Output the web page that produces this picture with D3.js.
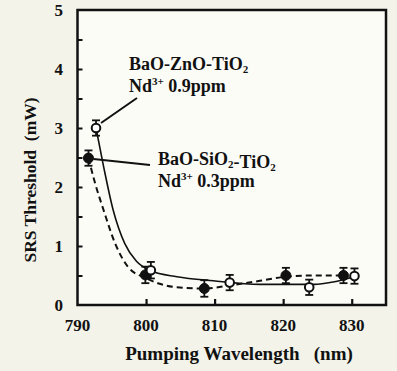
<!DOCTYPE html>
<html>
<head>
<meta charset="utf-8">
<script src="https://cdn.jsdelivr.net/npm/d3@7"></script>
<style>
  body { margin: 0; background: #f3f3e9; }
</style>
</head>
<body>
<svg id="chart" width="397" height="371"></svg>
<script>
(function(){

  // measured points (nm, mW)
  var znoX = [792.7, 800.7, 812.2, 823.8, 830.4],
      znoY = [3.0, 0.59, 0.38, 0.30, 0.49],
      znoErr = [0.13, 0.14, 0.13, 0.13, 0.13];

  var sioX = [791.6, 799.9, 808.5, 820.4, 828.8],
      sioY = [2.49, 0.51, 0.28, 0.50, 0.50],
      sioErr = [0.13, 0.14, 0.14, 0.13, 0.13];

  // fitted curves
  var znoFitX = [792.7, 793.8, 795.2, 796.9, 798.6, 800.7, 804.5, 809.8, 816.6, 821.5, 824.5, 827.3, 830.4],
      znoFitY = [3.0, 2.35, 1.61, 1.04, 0.74, 0.58, 0.48, 0.41, 0.35, 0.35, 0.35, 0.39, 0.48];

  var sioFitX = [791.6, 792.6, 793.8, 795.5, 797.4, 799.9, 802.0, 804.5, 808.5, 812.7, 816.6, 820.4, 824.4, 828.8],
      sioFitY = [2.49, 2.05, 1.61, 1.04, 0.64, 0.46, 0.36, 0.30, 0.28, 0.34, 0.41, 0.48, 0.50, 0.50];

  var xTicks = [790, 800, 810, 820, 830],
      yTicks = [0, 1, 2, 3, 4, 5],
      yMinor = [0.5, 1.5, 2.5, 3.5, 4.5];

  var FONT = '"Liberation Serif", "Times New Roman", serif';

  var svg = d3.select('#chart');

  var x = d3.scaleLinear().domain([790, 835]).range([77.5, 386]);
  var y = d3.scaleLinear().domain([0, 5]).range([305, 10]);

  // plot area
  svg.append('rect')
    .attr('x', x(790)).attr('y', y(5))
    .attr('width', x(835) - x(790)).attr('height', y(0) - y(5))
    .attr('fill', '#fcfcf7');

  // ticks pointing inward
  svg.append('g')
    .attr('transform', 'translate(0,' + y(0) + ')')
    .call(d3.axisBottom(x).tickValues(xTicks.slice(1)).tickSize(-6).tickFormat(''))
    .call(function(g){ g.select('.domain').remove(); })
    .selectAll('line').attr('stroke', '#111').attr('stroke-width', 2.2);

  svg.append('g')
    .attr('transform', 'translate(' + x(790) + ',0)')
    .call(d3.axisLeft(y).tickValues(yTicks.slice(1, 5).concat(yMinor)).tickSize(-5).tickFormat(''))
    .call(function(g){ g.select('.domain').remove(); })
    .selectAll('line').attr('stroke', '#111').attr('stroke-width', 2);

  // frame
  svg.append('rect')
    .attr('x', x(790)).attr('y', y(5))
    .attr('width', x(835) - x(790)).attr('height', y(0) - y(5))
    .attr('fill', 'none').attr('stroke', '#111').attr('stroke-width', 2.5);

  function txt(sel) {
    return sel.attr('font-family', FONT).attr('font-weight', 'bold').attr('fill', '#111');
  }

  // tick labels
  txt(svg.selectAll('.xlab').data(xTicks).enter().append('text'))
    .attr('x', function(d){ return x(d); })
    .attr('y', 331)
    .attr('text-anchor', 'middle')
    .attr('font-size', 17)
    .text(function(d){ return d; });

  txt(svg.selectAll('.ylab').data(yTicks).enter().append('text'))
    .attr('x', 63)
    .attr('y', function(d){ return y(d) + 6; })
    .attr('text-anchor', 'end')
    .attr('font-size', 17)
    .text(function(d){ return d; });

  // axis titles
  txt(svg.append('text'))
    .attr('transform', 'translate(36,180) rotate(-90)')
    .attr('text-anchor', 'middle')
    .attr('font-size', 17.5)
    .attr('xml:space', 'preserve')
    .text('SRS Threshold  (mW)');

  txt(svg.append('text'))
    .attr('x', 239).attr('y', 360)
    .attr('text-anchor', 'middle')
    .attr('font-size', 19)
    .attr('xml:space', 'preserve')
    .text('Pumping Wavelength   (nm)');

  // fitted curves
  var line = d3.line()
    .x(function(d){ return x(d[0]); })
    .y(function(d){ return y(d[1]); })
    .curve(d3.curveMonotoneX);

  svg.append('path')
    .datum(d3.zip(sioFitX, sioFitY))
    .attr('d', line)
    .attr('fill', 'none').attr('stroke', '#111')
    .attr('stroke-width', 2).attr('stroke-dasharray', '6,4');

  svg.append('path')
    .datum(d3.zip(znoFitX, znoFitY))
    .attr('d', line)
    .attr('fill', 'none').attr('stroke', '#111')
    .attr('stroke-width', 1.6);

  // error bars + markers
  function drawSeries(xs, ys, errs, filled) {
    var pts = d3.zip(xs, ys, errs);
    var g = svg.append('g');
    var bars = g.selectAll('g').data(pts).enter().append('g')
      .attr('stroke', '#111').attr('stroke-width', 1.8);
    bars.append('line')
      .attr('x1', function(d){ return x(d[0]); })
      .attr('x2', function(d){ return x(d[0]); })
      .attr('y1', function(d){ return y(d[1] + d[2]); })
      .attr('y2', function(d){ return y(d[1] - d[2]); });
    [1, -1].forEach(function(s){
      bars.append('line')
        .attr('x1', function(d){ return x(d[0]) - 4; })
        .attr('x2', function(d){ return x(d[0]) + 4; })
        .attr('y1', function(d){ return y(d[1] + s * d[2]); })
        .attr('y2', function(d){ return y(d[1] + s * d[2]); });
    });
    g.selectAll('circle').data(pts).enter().append('circle')
      .attr('cx', function(d){ return x(d[0]); })
      .attr('cy', function(d){ return y(d[1]); })
      .attr('r', filled ? 5 : 4.3)
      .attr('fill', filled ? '#111' : '#fff')
      .attr('stroke', '#111')
      .attr('stroke-width', filled ? 1 : 2);
  }

  drawSeries(sioX, sioY, sioErr, true);
  drawSeries(znoX, znoY, znoErr, false);

  // annotations
  svg.append('line')
    .attr('x1', 137).attr('y1', 98)
    .attr('x2', x(znoX[0]) + 5).attr('y2', y(znoY[0]) - 5)
    .attr('stroke', '#111').attr('stroke-width', 2);

  svg.append('line')
    .attr('x1', 150).attr('y1', 165)
    .attr('x2', x(sioX[0]) + 5).attr('y2', y(sioY[0]) + 1)
    .attr('stroke', '#111').attr('stroke-width', 2);

  function label(x0, y0, parts, nd) {
    var t = txt(svg.append('text')).attr('x', x0).attr('y', y0).attr('font-size', 18);
    parts.forEach(function(p){
      if (p.sub) {
        t.append('tspan').attr('dy', 3).attr('font-size', 11).text(p.sub);
        t.append('tspan').attr('dy', -3).text('');
      } else {
        t.append('tspan').text(p.t);
      }
    });
    var t2 = txt(svg.append('text')).attr('x', x0).attr('y', y0 + 22).attr('font-size', 18);
    t2.append('tspan').text('Nd');
    t2.append('tspan').attr('dy', -7).attr('font-size', 11).text('3+');
    t2.append('tspan').attr('dy', 7).text(' ' + nd);
  }

  label(129, 70, [{t: 'BaO-ZnO-TiO'}, {sub: '2'}], '0.9ppm');
  label(158, 165, [{t: 'BaO-SiO'}, {sub: '2'}, {t: '-TiO'}, {sub: '2'}], '0.3ppm');

})();
</script>
</body>
</html>
